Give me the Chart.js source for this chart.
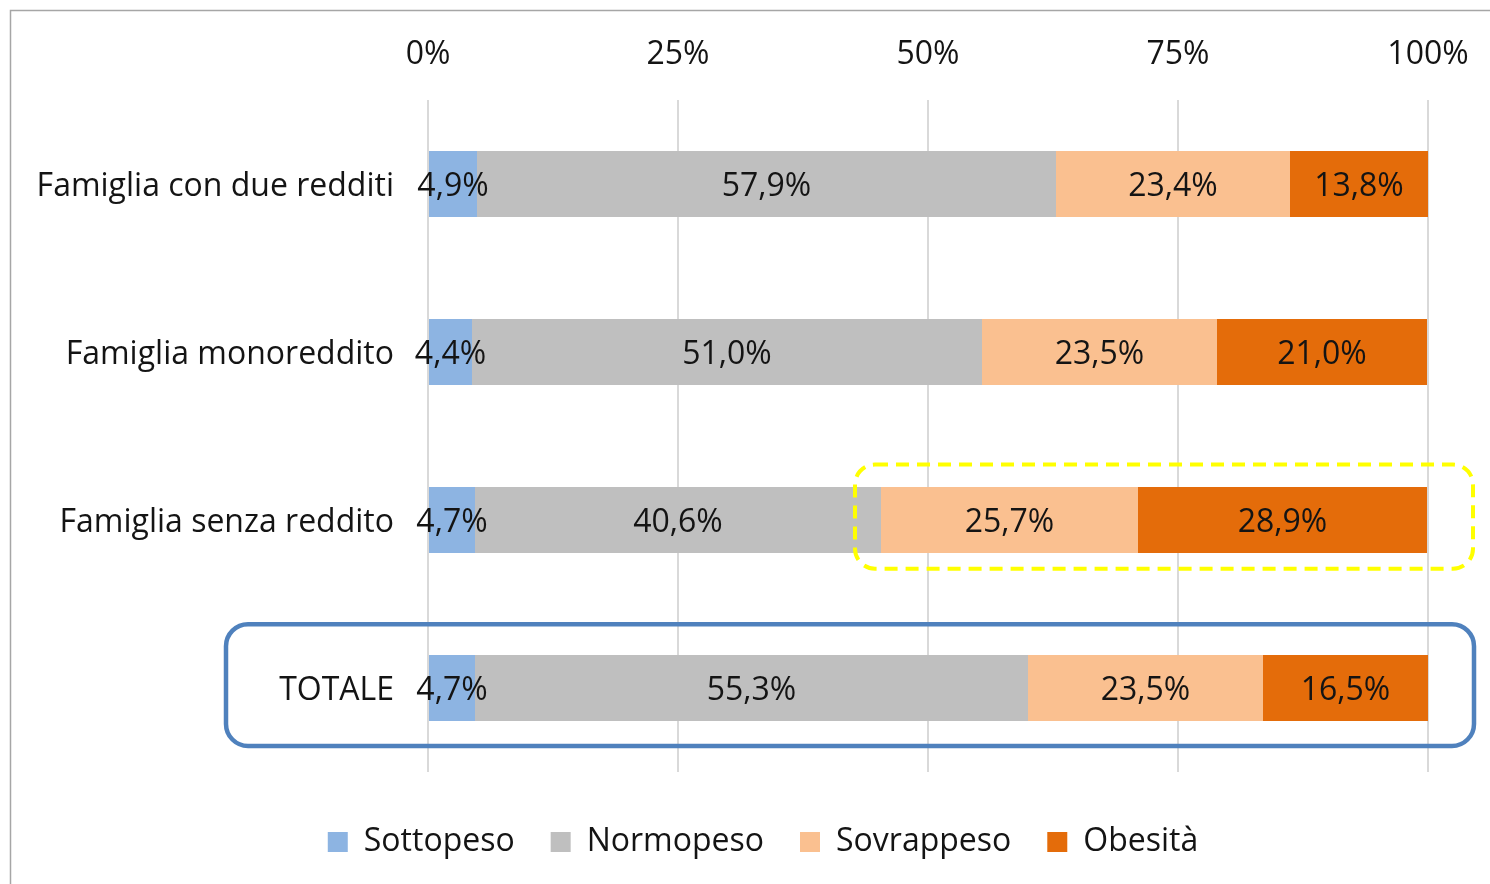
<!DOCTYPE html>
<html>
<head>
<meta charset="utf-8">
<script src="https://cdn.jsdelivr.net/npm/chart.js@4.4.0/dist/chart.umd.min.js"></script>
<style>
  html, body { margin: 0; padding: 0; background: #fff; }
  #wrap { position: relative; width: 1490px; height: 884px; }
</style>
</head>
<body>
<div id="wrap"><canvas id="myChart" width="1490" height="884"></canvas></div>
<script>
var categories = ['Famiglia con due redditi', 'Famiglia monoreddito', 'Famiglia senza reddito', 'TOTALE'];
var sottopeso = [4.9, 4.4, 4.7, 4.7];
var normopeso = [57.9, 51.0, 40.6, 55.3];
var sovrappeso = [23.4, 23.5, 25.7, 23.5];
var obesita = [13.8, 21.0, 28.9, 16.5];
var xTicks = [0, 25, 50, 75, 100];

var FONT = '"Open Sans", "Noto Sans", sans-serif';
var FSIZE = 32;
var TEXT = '#141414';

// white background + thin grey frame (top and left edges visible)
var framePlugin = {
  id: 'frame',
  beforeDraw: function (chart) {
    var c = chart.ctx;
    c.save();
    c.fillStyle = '#fff';
    c.fillRect(0, 0, chart.width, chart.height);
    c.strokeStyle = '#a6a6a6';
    c.lineWidth = 1.5;
    c.beginPath();
    c.moveTo(10.5, chart.height);
    c.lineTo(10.5, 10.5);
    c.lineTo(chart.width, 10.5);
    c.stroke();
    c.restore();
  },
  // legend sits a bit right of centre in the original (frame runs past the right edge)
  afterLayout: function (chart) {
    if (chart.legend) {
      chart.legend.left += 49;
      chart.legend.right += 49;
    }
  }
};

// value labels centred inside each segment
var labelPlugin = {
  id: 'segLabels',
  afterDatasetsDraw: function (chart) {
    var c = chart.ctx;
    c.save();
    c.font = FSIZE + 'px ' + FONT;
    c.fillStyle = TEXT;
    c.textAlign = 'center';
    c.textBaseline = 'middle';
    chart.data.datasets.forEach(function (ds, i) {
      chart.getDatasetMeta(i).data.forEach(function (bar, j) {
        var txt = ds.data[j].toFixed(1).replace('.', ',') + '%';
        c.fillText(txt, (bar.x + bar.base) / 2, bar.y + 3);
      });
    });
    c.restore();
  }
};

// highlight boxes: dashed yellow on "senza reddito" sovrappeso+obesita, blue on TOTALE
var highlightPlugin = {
  id: 'highlight',
  afterDraw: function (chart) {
    var x = chart.scales.x, y = chart.scales.y, c = chart.ctx;
    c.save();
    var x0 = x.getPixelForValue(42.7), x1 = x.getPixelForValue(104.5);
    var y0 = y.getPixelForValue(2 - 0.33), y1 = y.getPixelForValue(2 + 0.29);
    c.strokeStyle = '#ffff00';
    c.lineWidth = 4;
    c.setLineDash([13, 8]);
    c.beginPath();
    c.roundRect(x0, y0, x1 - x0, y1 - y0, 20);
    c.stroke();

    x0 = x.getPixelForValue(-20.2); x1 = x.getPixelForValue(104.6);
    y0 = y.getPixelForValue(3 - 0.38); y1 = y.getPixelForValue(3 + 0.345);
    c.strokeStyle = '#4f81bd';
    c.lineWidth = 4.5;
    c.setLineDash([]);
    c.beginPath();
    c.roundRect(x0, y0, x1 - x0, y1 - y0, 22);
    c.stroke();
    c.restore();
  }
};

var ctx = document.getElementById('myChart').getContext('2d');
var myChart = new Chart(ctx, {
  type: 'bar',
  data: {
    labels: categories,
    datasets: [
      { label: 'Sottopeso', data: sottopeso, backgroundColor: '#8db4e2' },
      { label: 'Normopeso', data: normopeso, backgroundColor: '#bfbfbf' },
      { label: 'Sovrappeso', data: sovrappeso, backgroundColor: '#fac090' },
      { label: 'Obesità', data: obesita, backgroundColor: '#e46c0a' }
    ]
  },
  options: {
    indexAxis: 'y',
    responsive: false,
    animation: false,
    barPercentage: 0.6,
    categoryPercentage: 0.655,
    layout: { padding: { left: 0, right: 62, top: 0, bottom: 16 } },
    scales: {
      x: {
        position: 'top',
        stacked: true,
        min: 0,
        max: 100,
        afterBuildTicks: function (s) { s.ticks = xTicks.map(function (v) { return { value: v }; }); },
        afterFit: function (s) { s.height = 100; s.paddingLeft = 0; s.paddingRight = 0; },
        ticks: {
          padding: 26,
          color: TEXT,
          font: { family: FONT, size: FSIZE },
          callback: function (v) { return v + '%'; }
        },
        grid: { color: '#d9d9d9', lineWidth: 2, drawTicks: false },
        border: { display: false }
      },
      y: {
        stacked: true,
        afterFit: function (s) { s.width = 428; },
        ticks: {
          padding: 26,
          labelOffset: 3,
          color: TEXT,
          font: { family: FONT, size: FSIZE }
        },
        grid: { display: false },
        border: { display: false }
      }
    },
    plugins: {
      legend: {
        position: 'bottom',
        // empty title only adds a little space above the legend row
        title: { display: true, text: '', font: { size: 10 }, padding: 3 },
        labels: {
          color: TEXT,
          font: { family: FONT, size: FSIZE },
          boxWidth: 20,
          boxHeight: 20,
          padding: 36
        }
      },
      tooltip: { enabled: false }
    }
  },
  plugins: [framePlugin, labelPlugin, highlightPlugin]
});
</script>
</body>
</html>
